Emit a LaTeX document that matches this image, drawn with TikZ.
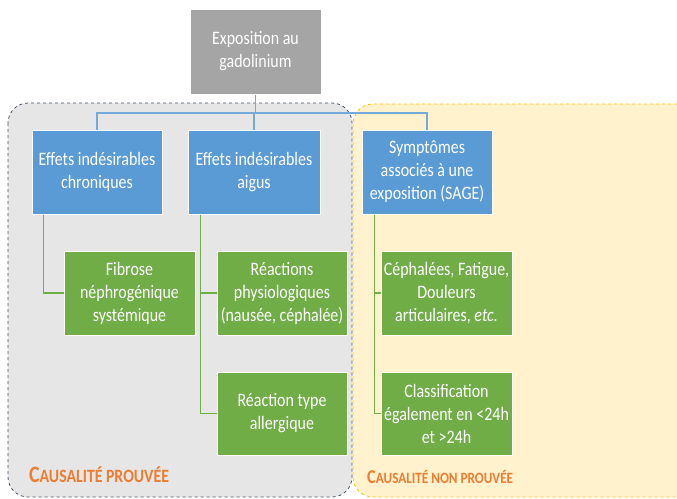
\documentclass[tikz,border=0pt]{standalone}
\usepackage{fontspec}
\setmainfont{Carlito}
\newfontfamily\cardfont[FakeStretch=0.84]{Carlito}
\usepackage{tikz}
\usetikzlibrary{calc}

\definecolor{boxgray}{HTML}{A5A5A5}
\definecolor{boxblue}{HTML}{5B9BD5}
\definecolor{boxgreen}{HTML}{70AD47}
\definecolor{zonegray}{HTML}{E7E6E6}
\definecolor{zoneedge}{HTML}{44546A}
\definecolor{zoneyellow}{HTML}{FFF2CC}
\definecolor{yellowedge}{HTML}{FFC000}
\definecolor{labelorange}{HTML}{ED7D31}

\tikzset{
    card/.style={draw=white, line width=1pt, text=white, align=center, inner sep=1pt,
        font=\cardfont\fontsize{19}{23}\selectfont},
    topcard/.style={card, fill=boxgray, minimum width=131pt, minimum height=85pt},
    bluecard/.style={card, fill=boxblue, minimum width=130pt, minimum height=84pt},
    greencard/.style={card, fill=boxgreen, minimum width=130pt, minimum height=84pt},
    blueline/.style={draw=boxblue!85!white, line width=1.2pt},
    greenline/.style={draw=boxgreen, line width=1.2pt},
    zonelabel/.style={text=labelorange, anchor=base west, inner sep=0pt, font=\cardfont\bfseries}
}

\begin{document}
\begin{tikzpicture}[x=1pt, y=-1pt]
    % 画布范围
    \useasboundingbox (0,0) rectangle (677,498);
    \clip (0,0) rectangle (677,498);

    % 两个背景区域
    \draw[fill=zoneyellow, draw=yellowedge, dashed, line width=0.8pt, rounded corners=20pt]
        (353,104) rectangle (700,497);
    \draw[fill=zonegray, draw=zoneedge, dashed, line width=0.8pt, rounded corners=20pt]
        (8,103) rectangle (352,497);

    % 顶部节点
    \node[topcard] (expo) at (255.5,51.5) {Exposition au\\gadolinium};

    % 第二层节点
    \node[bluecard] (chron) at (97,172) {Effets indésirables\\chroniques};
    \node[bluecard, minimum width=132pt] (aigu) at (254,172) {Effets indésirables\\aigus};
    \node[bluecard] (sage) at (427,172) {Symptômes\\associés à une\\exposition (SAGE)};

    % 第三层节点
    \node[greencard, minimum width=131pt] (fibrose) at (129.5,293) {Fibrose\\néphrogénique\\systémique};
    \node[greencard] (physio) at (282,293) {Réactions\\physiologiques\\(nausée, céphalée)};
    \node[greencard, minimum height=83pt] (allerg) at (282,413.5) {Réaction type\\allergique};
    \node[greencard, minimum width=131pt] (cephal) at (446.5,293) {Céphalées, Fatigue,\\Douleurs\\articulaires, \textit{etc.}};
    \node[greencard, minimum width=131pt, minimum height=83pt] (classif) at (446.5,413.5) {Classification\\également en <24h\\et >24h};

    % 蓝色连线
    \coordinate (bus) at (0,113);
    \draw[blueline] (expo.south) -- (expo.south |- bus);
    \draw[blueline] (chron.north) -- (chron.north |- bus) -- (sage.north |- bus) -- (sage.north);
    \draw[blueline] (aigu.north) -- (aigu.north |- bus);

    % 绿色连线
    \coordinate (c1) at ([xshift=12pt]chron.south west);
    \coordinate (a1) at ([xshift=13pt]aigu.south west);
    \coordinate (s1) at ([xshift=13pt]sage.south west);
    \draw[greenline] (c1) |- (fibrose.west);
    \draw[greenline] (a1) |- (allerg.west);
    \draw[greenline] (a1 |- physio.west) -- (physio.west);
    \draw[greenline] (s1) |- (classif.west);
    \draw[greenline] (s1 |- cephal.west) -- (cephal.west);

    % 区域标签
    \node[zonelabel] (proven) at (29,482)
        {{\fontsize{23.5}{25}\selectfont C}{\fontsize{18.8}{25}\selectfont AUSALITÉ PROUVÉE}};
    \node[zonelabel] (unproven) at (367,483)
        {{\fontsize{19.5}{23}\selectfont C}{\fontsize{15.7}{23}\selectfont AUSALITÉ NON PROUVÉE}};
\end{tikzpicture}
\end{document}
